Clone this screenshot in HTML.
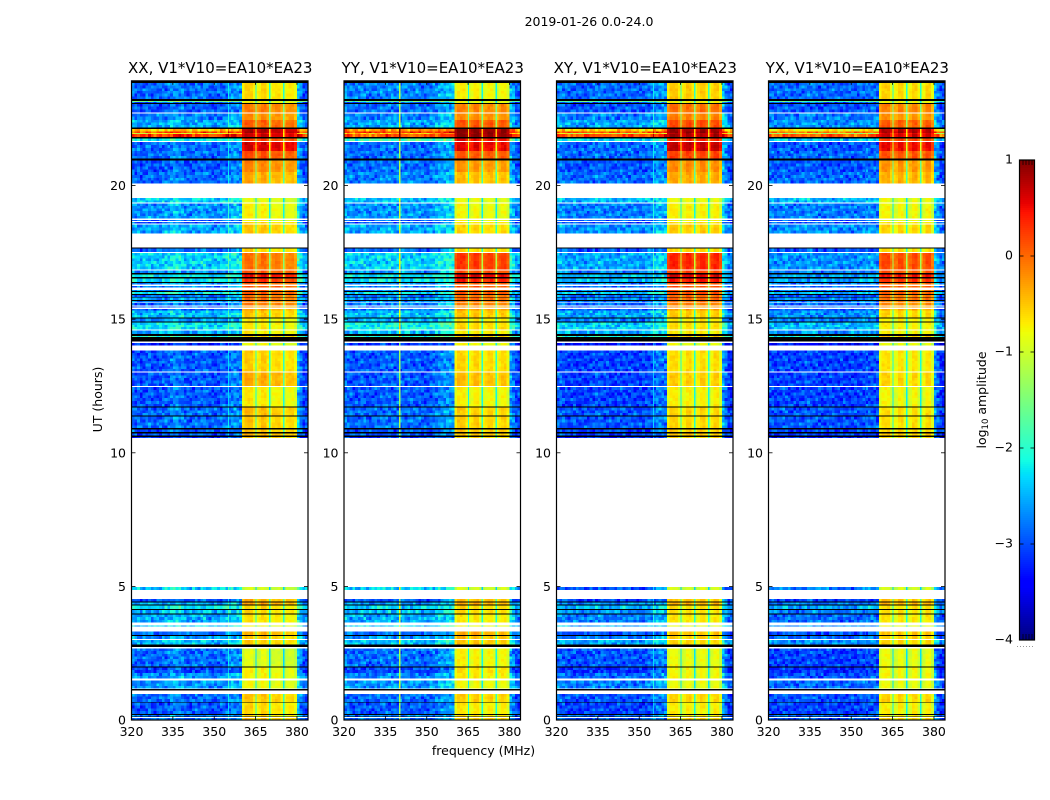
<!DOCTYPE html>
<html>
<head>
<meta charset="utf-8">
<title>2019-01-26 0.0-24.0</title>
<style>
html,body{margin:0;padding:0;background:#fff;width:1050px;height:800px;overflow:hidden}
svg{display:block}
text{font-family:"DejaVu Sans","Liberation Sans",sans-serif;fill:#000}
</style>
</head>
<body>
<svg id="figure" xmlns="http://www.w3.org/2000/svg" width="1050" height="800" viewBox="0 0 1050 800">
  <rect x="0" y="0" width="1050" height="800" fill="#fff"/>
  <text x="589" y="26" text-anchor="middle" font-size="12.5">2019-01-26 0.0-24.0</text>
  <text x="483.5" y="755" text-anchor="middle" font-size="12.5">frequency (MHz)</text>
  <text transform="translate(102,399.5) rotate(-90)" text-anchor="middle" font-size="12.5">UT (hours)</text>
  <text transform="translate(986,400) rotate(-90)" text-anchor="middle" font-size="12.5">log<tspan font-size="8.5" dy="2">10</tspan><tspan dy="-2"> amplitude</tspan></text>
  <g id="panels"></g>
  <g id="colorbar"></g>
</svg>
<script>
// ---- categories and tick labels ----
var panelTitles = ["XX, V1*V10=EA10*EA23","YY, V1*V10=EA10*EA23","XY, V1*V10=EA10*EA23","YX, V1*V10=EA10*EA23"];
var freqTicks = [320,335,350,365,380];
var hourTicks = [0,5,10,15,20];
var colorbarTicks = [1,0,-1,-2,-3,-4];

// ---- UT bands holding data, top to bottom [start hour, end hour]; gaps stay white ----
var timeBands = [
[23.84,23.24],[23.17,23.13],[23.13,23.09],[23.06,22.74],[22.70,22.46],[22.46,22.18],[22.11,22.02],[22.02,21.97],[21.97,21.93],[21.93,21.82],
[21.77,21.67],[21.63,21.30],[21.30,21.02],[20.94,20.50],[20.50,20.08],[19.53,19.36],[19.33,18.77],[18.72,18.68],[18.64,18.58],[18.54,18.21],
[17.65,17.52],[17.48,16.86],[16.83,16.72],[16.68,16.57],[16.53,16.40],[16.36,16.30],[16.25,16.18],[16.10,16.06],[16.02,15.95],[15.90,15.84],
[15.81,15.72],[15.68,15.62],[15.60,15.51],[15.47,15.43],[15.39,15.32],[15.32,15.07],[15.03,14.91],[14.87,14.62],[14.57,14.44],[14.37,14.33],
[14.10,14.01],[13.83,13.04],[13.00,12.50],[12.46,11.73],[11.69,11.39],[11.35,10.92],[10.88,10.77],[10.73,10.65],[10.60,10.56],[4.97,4.87],
[4.52,4.44],[4.39,4.33],[4.29,4.15],[4.12,3.99],[3.95,3.64],[3.53,3.49],[3.31,3.18],[3.14,3.03],[2.99,2.82],[2.67,2.00],
[1.97,1.76],[1.76,1.55],[1.47,1.17],[0.97,0.68],[0.65,0.22],[0.19,0.13],[0.07,0.00]];

// ---- flagged rows printed black [start hour, end hour] ----
var blackRows = [
[23.92,23.84],[23.24,23.17],[23.09,23.06],[22.18,22.11],[21.82,21.77],[21.02,20.94],[17.69,17.65],[16.72,16.68],[16.57,16.53],[16.40,16.36],
[16.06,16.02],[15.95,15.90],[15.84,15.81],[15.72,15.68],[15.07,15.03],[14.91,14.87],[14.44,14.37],[14.33,14.16],[11.73,11.69],[11.39,11.35],
[10.92,10.88],[10.77,10.73],[10.65,10.60],[4.44,4.39],[4.33,4.29],[4.15,4.12],[3.99,3.95],[3.18,3.14],[2.82,2.74],[2.00,1.97],
[1.16,1.10],[0.68,0.65],[0.22,0.19],[0.13,0.11]];

// ---- log10 amplitude per band, outside the 360-380 MHz block ----
var outXX = [-2.9,-1.7,-3.0,-3.0,-2.8,-2.6,-0.6,0.1,-0.9,0.2,
-2.2,-2.9,-2.9,-3.0,-2.9,-2.4,-2.7,-3.0,-3.0,-2.6,
-2.9,-2.4,-2.7,-2.3,-2.3,-2.7,-2.8,-2.8,-2.2,-2.9,
-2.7,-2.7,-2.9,-2.9,-3.0,-2.5,-2.7,-2.3,-2.6,-2.0,
-3.3,-3.0,-3.0,-3.0,-2.9,-2.9,-3.0,-3.0,-3.2,-2.4,
-3.0,-2.6,-2.3,-2.5,-2.6,-2.4,-2.9,-2.7,-2.5,-2.9,
-3.1,-2.7,-2.7,-2.9,-3.0,-2.8,-2.9];
var outYY = [-2.8,-1.8,-3.0,-2.9,-2.8,-2.6,-0.3,0.2,-0.6,0.0,
-1.9,-2.9,-2.9,-2.9,-2.8,-2.5,-2.7,-3.0,-3.0,-2.6,
-2.9,-2.4,-2.7,-2.3,-2.3,-2.7,-2.8,-2.8,-2.3,-2.9,
-2.7,-2.7,-2.8,-2.8,-2.9,-2.5,-2.6,-2.2,-2.5,-2.0,
-3.2,-3.0,-3.0,-3.0,-2.9,-2.9,-3.0,-3.0,-3.2,-2.4,
-3.0,-2.7,-2.4,-2.5,-2.6,-2.4,-2.9,-2.7,-2.5,-2.9,
-3.1,-2.8,-2.7,-2.9,-3.0,-2.8,-2.9];
var outXY = [-2.9,-1.8,-3.0,-3.0,-2.8,-2.6,-0.6,0.1,-1.0,0.1,
-2.3,-2.9,-2.9,-3.0,-2.9,-2.5,-2.8,-3.0,-3.0,-2.7,
-3.0,-2.6,-2.8,-2.5,-2.5,-2.8,-2.9,-2.8,-2.4,-2.9,
-2.8,-2.8,-2.9,-2.9,-3.0,-2.6,-2.8,-2.4,-2.6,-2.1,
-3.4,-3.1,-3.1,-3.1,-3.0,-3.0,-3.1,-3.1,-3.3,-3.0,
-3.1,-2.7,-2.5,-2.7,-2.8,-2.6,-3.0,-2.8,-2.6,-3.0,
-3.2,-2.9,-2.8,-3.0,-3.1,-2.9,-3.0];
var outYX = [-2.9,-1.9,-3.0,-3.0,-2.8,-2.7,-0.8,-0.1,-1.2,0.0,
-2.4,-3.0,-2.9,-3.0,-2.9,-2.5,-2.8,-3.0,-3.0,-2.7,
-3.0,-2.7,-2.8,-2.6,-2.6,-2.8,-2.9,-2.9,-2.5,-3.0,
-2.8,-2.8,-2.9,-2.9,-3.0,-2.7,-2.8,-2.5,-2.7,-2.2,
-3.4,-3.1,-3.1,-3.1,-3.0,-3.0,-3.1,-3.1,-3.3,-2.8,
-3.1,-2.8,-2.6,-2.8,-2.9,-2.7,-3.0,-2.9,-2.7,-3.1,
-3.2,-3.0,-2.9,-3.0,-3.1,-2.9,-3.0];

// ---- log10 amplitude per band, inside the 360-380 MHz block ----
var inXX = [-0.6,-0.8,-0.7,-0.1,-0.2,0.05,0.8,0.8,0.6,0.7,
0.2,0.65,0.15,-0.15,-0.35,-0.85,-0.75,-0.8,-0.6,-0.5,
-0.6,-0.05,0.1,0.5,0.3,0,0.1,0,0.1,-0.05,
0,-0.1,-0.1,-0.3,-0.3,-0.5,-0.7,-0.7,-0.7,-0.5,
-0.8,-0.55,-0.35,-0.7,-0.45,-0.5,-0.5,-0.4,-0.5,-0.95,
-0.4,-0.3,-0.6,-0.6,-0.65,-0.8,-0.4,-0.5,-0.55,-0.9,
-0.75,-0.75,-0.8,-0.5,-0.6,-0.6,-0.5];
var inYY = [-0.75,-0.85,-0.8,-0.15,-0.2,0.1,0.95,0.95,0.95,0.95,
0.5,0.55,0.1,-0.25,-0.45,-0.85,-0.8,-0.8,-0.7,-0.6,
-0.6,0.25,0.15,0.6,0.4,0.05,0.1,0,0.1,-0.05,
0,-0.1,-0.15,-0.3,-0.3,-0.5,-0.7,-0.6,-0.7,-0.5,
-0.8,-0.6,-0.45,-0.75,-0.55,-0.55,-0.5,-0.5,-0.6,-0.95,
-0.45,-0.35,-0.6,-0.6,-0.7,-0.8,-0.35,-0.45,-0.5,-0.75,
-0.65,-0.7,-0.8,-0.55,-0.7,-0.65,-0.55];
var inXY = [-0.55,-0.8,-0.7,-0.05,-0.15,0.15,0.85,0.9,0.75,0.8,
0.35,0.7,0.2,-0.2,-0.35,-0.85,-0.75,-0.8,-0.65,-0.55,
-0.6,0.35,0.2,0.6,0.45,0.1,0.15,0.05,0.15,0,
0,-0.05,-0.15,-0.3,-0.3,-0.55,-0.7,-0.65,-0.7,-0.5,
-0.85,-0.65,-0.55,-0.75,-0.6,-0.6,-0.55,-0.5,-0.6,-0.95,
-0.5,-0.4,-0.65,-0.65,-0.7,-0.85,-0.5,-0.55,-0.6,-0.85,
-0.8,-0.8,-0.85,-0.6,-0.75,-0.7,-0.6];
var inYX = [-0.6,-0.85,-0.75,-0.15,-0.25,0.05,0.75,0.8,0.55,0.65,
0.2,0.5,0.1,-0.25,-0.4,-0.85,-0.8,-0.85,-0.7,-0.6,
-0.65,0.15,0.1,0.45,0.3,0,0.05,-0.05,0.05,-0.1,
-0.05,-0.15,-0.2,-0.35,-0.35,-0.6,-0.75,-0.75,-0.75,-0.55,
-0.85,-0.7,-0.6,-0.8,-0.65,-0.65,-0.6,-0.55,-0.65,-0.95,
-0.5,-0.4,-0.65,-0.65,-0.7,-0.85,-0.5,-0.55,-0.6,-0.85,
-0.8,-0.8,-0.85,-0.6,-0.75,-0.7,-0.6];

// ---- spectral shape per 1 MHz bin, 320-383 MHz (log10 offset from the band level) ----
var spectrumXX = [0.1,0,0.05,-0.1,0,0.05,0.1,0,-0.05,0,0,0.05,0.05,0.1,0.2,0.25,0.25,0.2,0.15,0,0,0,0.05,0.1,0.05,0.1,0.15,0.1,0,-0.05,0,0,0.05,0.1,0.1,0.2,0.25,0.25,0.25,0.2,
-0.15,0.05,0.05,0.05,-0.15,-0.2,-0.1,0.05,0.05,-0.15,-0.25,-0.1,-0.05,-0.05,-0.2,-0.3,-0.15,-0.1,-0.1,-0.25,0.5,0.2,-0.1,-0.1];
var spectrumYY = [0.15,0.1,0.05,0,0,0.05,0.1,0.05,0,0,0,0.05,0.05,0.1,0.1,0.1,0.1,0.1,0.05,0.1,0.1,0.1,0.05,0.1,0.05,0.05,0.1,0.05,0,0,0,0.05,0.1,0.15,0.25,0.3,0.3,0.35,0.35,0.35,
-0.15,0.05,0.05,0.05,-0.15,-0.2,-0.1,0.05,0.05,-0.15,-0.25,-0.1,0,0,-0.15,-0.3,-0.1,0,0,-0.2,0.4,0.2,-0.1,-0.1];
var spectrumXY = [0.15,0.15,0.1,0.05,0,0,0.05,0,-0.05,0,0,0,0.05,0.05,0.1,0.1,0.1,0.05,0.05,0,0,0,0.05,0.05,0.05,0.05,0.05,0.05,0,0,0,0,0.05,0.1,0.1,0.2,0.3,0.3,0.3,0.25,
-0.15,0.05,0.05,0.05,-0.15,-0.2,-0.1,0.05,0.05,-0.15,-0.25,-0.1,0.05,0.05,-0.15,-0.3,-0.1,0.05,0.05,-0.25,0.5,0.2,-0.1,-0.1];
var spectrumYX = [0.05,0.05,0,0,0.05,0.1,0.1,0.05,0,0,0,0.05,0.05,0.1,0.1,0.1,0.05,0.05,0,0,0,0.05,0.05,0.05,0,0,0,0,0,0,0,0,0,0.05,0.05,0.1,0.1,0.1,0.1,0.05,
-0.15,0.05,0.05,0.05,-0.2,-0.2,-0.15,0.05,0.05,-0.2,-0.25,-0.15,0.05,0.05,-0.2,-0.3,-0.15,0.05,0.05,-0.25,0.4,0.15,-0.1,-0.1];

// ---- thin features narrower than a bin ----
var notchFreqs = [365,370,375];
var notchDepth = 1.4;
var lineFreqs = [355,340,355,355];
var lineBoosts = [0.7,1.7,0.7,0.1];

// ---- hand-typed pixel-scale speckle seen in the data, -1..1 ----
var speckle = [0.4,-0.7,0.1,0.9,-0.3,-1,0.5,0.2,-0.6,0.8,-0.1,-0.8,0.3,1,-0.5,0,0.6,-0.9,0.2,-0.4,
0.7,-0.2,-0.7,0.9,0.1,-1,0.4,0.6,-0.3,-0.6,1,0,-0.8,0.3,0.5,-0.5,-0.1,0.8,-0.9,0.2,
0.6,-0.4,-0.7,0.1,0.9,-0.2,-1,0.7,0.3,-0.6,0.5,-0.3,0.8,-0.8,0,0.4,-0.5,1,-0.1,-0.9,0.2];

var panelOut = [outXX,outYY,outXY,outYX];
var panelIn = [inXX,inYY,inXY,inYX];
var panelSpectrum = [spectrumXX,spectrumYY,spectrumXY,spectrumYX];

// ---- layout ----
var NS = "http://www.w3.org/2000/svg";
var panelLefts = [131.5,344,556.5,768.5];
var panelW = 176.5, plotBottom = 720, hourPx = 26.72, freqMin = 320, freqMax = 384;
var blockStart = 360, blockEnd = 380;
var vMin = -4, vMax = 1;

function xScale(left, f){ return left + (f - freqMin) / (freqMax - freqMin) * panelW; }
function yScale(h){ return plotBottom - h * hourPx; }
var plotTop = yScale(23.92);

function clip01(v){ return Math.max(0, Math.min(1, v)); }
function jet(v){
  var t = clip01((v - vMin) / (vMax - vMin));
  var r = t < 0.35 ? 0 : t < 0.66 ? (t - 0.35) / 0.31 : t < 0.89 ? 1 : 1 - (t - 0.89) / 0.11 * 0.5;
  var g = t < 0.125 ? 0 : t < 0.375 ? (t - 0.125) / 0.25 : t < 0.64 ? 1 : t < 0.91 ? 1 - (t - 0.64) / 0.27 : 0;
  var b = t < 0.11 ? 0.5 + t / 0.11 * 0.5 : t < 0.34 ? 1 : t < 0.65 ? 1 - (t - 0.34) / 0.31 : 0;
  return "rgb(" + Math.round(r * 255) + "," + Math.round(g * 255) + "," + Math.round(b * 255) + ")";
}
function make(parent, tag, attrs){
  var el = document.createElementNS(NS, tag);
  for (var k in attrs) el.setAttribute(k, attrs[k]);
  parent.appendChild(el);
  return el;
}
function speckleAt(c, s, p){
  var a = speckle[(c * 7 + s + p * 11) % speckle.length];
  var b = speckle[(c + s * 13 + p * 5) % speckle.length];
  return (a + b) / 1.4;
}

var panelsRoot = document.getElementById("panels");
panelTitles.forEach(function(title, p){
  var left = panelLefts[p], right = left + panelW;
  var g = make(panelsRoot, "g", {});
  
  

  var heat = make(g, "g", {"shape-rendering":"crispEdges"});
  
  

  var stripIndex = 0, stripHours = 0.1, binW = xScale(left, freqMin + 1) - left;
  var spectrum = panelSpectrum[p], levelsOut = panelOut[p], levelsIn = panelIn[p];
  timeBands.forEach(function(band, b){
    var nStrips = Math.max(1, Math.round((band[0] - band[1]) / stripHours));
    var step = (band[0] - band[1]) / nStrips;
    for (var s = 0; s < nStrips; s++){
      var hTop = band[0] - s * step;
      var y0 = yScale(hTop), y1 = yScale(hTop - step);
      for (var c = 0; c < spectrum.length; c++){
        var f = freqMin + c;
        var inside = f >= blockStart && f < blockEnd;
        var tex = speckleAt(c, stripIndex, p);
        var val = (inside ? levelsIn[b] : levelsOut[b]) + spectrum[c] + tex * (inside ? 0.08 : 0.33);
        var cell = make(heat, "rect", {x:xScale(left, f), y:y0, width:binW + 0.4, height:y1 - y0, fill:jet(val)});
        
        
      }
      notchFreqs.forEach(function(nf){
        var notch = make(heat, "rect", {x:xScale(left, nf) - 0.3, y:y0, width:1.4, height:y1 - y0, fill:jet(levelsIn[b] - notchDepth)});
        
        
      });
      var ln = make(heat, "rect", {x:xScale(left, lineFreqs[p]), y:y0, width:1.2, height:y1 - y0, fill:jet(levelsOut[b] + lineBoosts[p])});
      
      
      stripIndex++;
    }
  });

  blackRows.forEach(function(row){
    var bar = make(g, "rect", {x:left, y:yScale(row[0]), width:panelW, height:yScale(row[1]) - yScale(row[0]), fill:"#000", "shape-rendering":"crispEdges"});
    
    
  });

  var frame = make(g, "rect", {x:left, y:plotTop, width:panelW, height:plotBottom - plotTop, fill:"none", stroke:"#000", "stroke-width":1.2});
  
  

  freqTicks.forEach(function(f){
    var x = xScale(left, f);
    var tb = make(g, "line", {x1:x, x2:x, y1:plotBottom, y2:plotBottom - 4, stroke:"#000", "stroke-width":0.8});
    
    
    var tt = make(g, "line", {x1:x, x2:x, y1:plotTop, y2:plotTop + 4, stroke:"#000", "stroke-width":0.8});
    
    
    var lab = make(g, "text", {x:x, y:plotBottom + 16, "text-anchor":"middle", "font-size":12.5});
    
    
    lab.textContent = f;
  });
  hourTicks.forEach(function(h){
    var y = yScale(h);
    var tl = make(g, "line", {x1:left, x2:left + 4, y1:y, y2:y, stroke:"#000", "stroke-width":0.8});
    
    
    var tr = make(g, "line", {x1:right, x2:right - 4, y1:y, y2:y, stroke:"#000", "stroke-width":0.8});
    
    
    var lab = make(g, "text", {x:left - 5.5, y:y + 4.5, "text-anchor":"end", "font-size":12.5});
    
    
    lab.textContent = h;
  });

  var t = make(g, "text", {x:left + panelW / 2 + 0.5, y:73, "text-anchor":"middle", "font-size":15});
  
  
  t.textContent = title;
});

// ---- colour bar ----
var cb = document.getElementById("colorbar");
var cbLeft = 1019.5, cbW = 15, cbTop = 160, cbBottom = 640;
function cbY(v){ return cbBottom - (v - vMin) / (vMax - vMin) * (cbBottom - cbTop); }
for (var py = cbTop; py < cbBottom; py += 2){
  var seg = make(cb, "rect", {x:cbLeft, y:py, width:cbW, height:2.2, fill:jet(vMax - (py + 1 - cbTop) / (cbBottom - cbTop) * (vMax - vMin)), "shape-rendering":"crispEdges"});
  
  
}
var cbFrame = make(cb, "rect", {x:cbLeft, y:cbTop, width:cbW, height:cbBottom - cbTop, fill:"none", stroke:"#000", "stroke-width":1.2});


colorbarTicks.forEach(function(v){
  var y = cbY(v);
  var a = make(cb, "line", {x1:cbLeft, x2:cbLeft + 4, y1:y, y2:y, stroke:"#000", "stroke-width":0.8});
  
  
  var d = make(cb, "line", {x1:cbLeft + cbW, x2:cbLeft + cbW - 4, y1:y, y2:y, stroke:"#000", "stroke-width":0.8});
  
  
  var lab = make(cb, "text", {x:1013, y:y + 3.5, "text-anchor":"end", "font-size":12.5});
  
  
  lab.textContent = (v < 0 ? "\u2212" + (-v) : "" + v);
});
[3.5,6.5,9.5,12.5].forEach(function(dx){
  var m1 = make(cb, "line", {x1:cbLeft + dx, x2:cbLeft + dx, y1:cbTop, y2:cbTop + 5, stroke:"#000", "stroke-width":0.7});
  
  
  var m2 = make(cb, "line", {x1:cbLeft + dx, x2:cbLeft + dx, y1:cbBottom, y2:cbBottom - 6, stroke:"#000", "stroke-width":0.7});
  
  
});
var dots = make(cb, "line", {x1:1017, x2:1035, y1:646.5, y2:646.5, stroke:"#999", "stroke-width":1, "stroke-dasharray":"1 2"});


</script>
</body>
</html>
